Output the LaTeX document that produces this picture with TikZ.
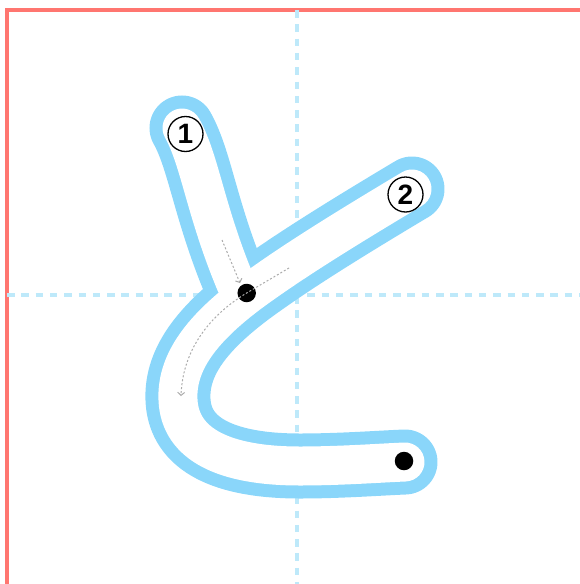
\documentclass[tikz,border=0pt]{standalone}
\usepackage{fontspec}
\newfontfamily\numfont{Liberation Sans}
\usetikzlibrary{arrows.meta}
\definecolor{framered}{RGB}{255,118,112}
\definecolor{guideblue}{RGB}{190,233,250}
\definecolor{strokeblue}{RGB}{138,214,250}
\tikzset{
  frame/.style={draw=framered, line width=3.5pt},
  guide/.style={draw=guideblue, line width=3.5pt, dash pattern=on 7.5pt off 6.8pt},
  outline/.style={draw=strokeblue, line width=65pt, line cap=round, line join=round},
  hollow/.style={draw=white, line width=39pt, line cap=round, line join=round},
  hint/.style={draw=gray!65, line width=1pt, dash pattern=on 2pt off 2pt, -{Straight Barb[length=3pt,width=7pt]}},
  dotmark/.style={circle, fill=black, minimum size=18.5pt, inner sep=0pt},
  numcirc/.style={circle, draw, line width=1.3pt, minimum size=35pt, inner sep=0pt, font=\numfont\bfseries\fontsize{28}{28}\selectfont}
}

\begin{document}
\begin{tikzpicture}[x=1pt, y=-1pt]
\useasboundingbox (0,0) rectangle (580,584);
\clip (0,0) rectangle (580,584);

% grid
\draw[frame] (7,600) -- (7,10) -- (600,10);
\draw[guide] (297,10) -- (297,584);
\draw[guide] (7,295) -- (580,295);

% stroke points
\coordinate (a1) at (182,128);
\coordinate (a2) at (236,284);
\coordinate (b1) at (412,189);
\coordinate (b2) at (262,284);
\coordinate (b3) at (178,400);
\coordinate (b4) at (300,466);
\coordinate (b5) at (405,462);

% hollow glyph
\begin{scope}[blend group=darken]
\pgfsetblendmode{normal}
\draw[outline] (a1) .. controls (200,160) and (205,210) .. (a2);
\draw[outline] (b1) .. controls (350,226) and (300,257) .. (b2)
  .. controls (205,324) and (176,360) .. (b3)
  .. controls (180,445) and (225,466) .. (b4)
  .. controls (340,466) and (380,463) .. (b5);
\draw[hollow] (a1) .. controls (200,160) and (205,210) .. (a2);
\draw[hollow] (b1) .. controls (350,226) and (300,257) .. (b2)
  .. controls (205,324) and (176,360) .. (b3)
  .. controls (180,445) and (225,466) .. (b4)
  .. controls (340,466) and (380,463) .. (b5);
\end{scope}

% start and end marks
\node[dotmark] (d1) at (246.7,293) {};
\node[dotmark] (d2) at (404,461) {};
\coordinate (h1) at (222,240);
\coordinate (h2) at (240,283);
\coordinate (h3) at (289,268);
\coordinate (h4) at (181,396);
\draw[hint] (h1) -- (h2);
\draw[hint] (h3) -- (d1.center) .. controls (215,312) and (183,345) .. (h4);

\node[numcirc] (n1) at (185.5,134) {1};
\node[numcirc] (n2) at (405.5,194.5) {2};
\end{tikzpicture}
\end{document}
